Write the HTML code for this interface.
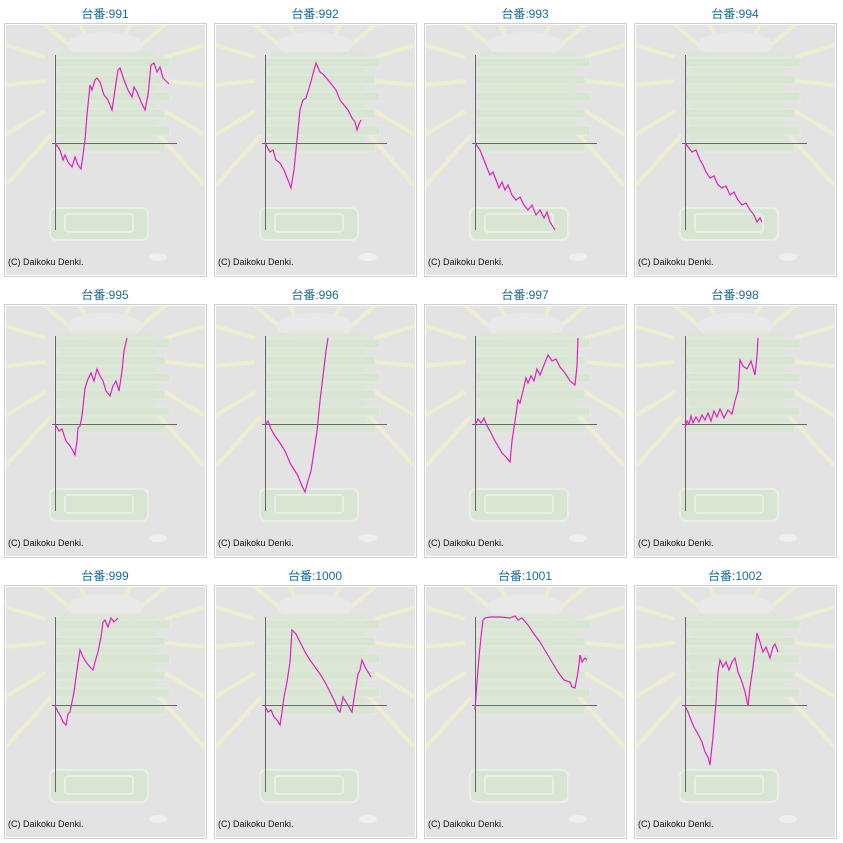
<!DOCTYPE html>
<html><head><meta charset="utf-8"><style>
body{margin:0;background:#fff;width:843px;height:843px;overflow:hidden;position:relative;font-family:"Liberation Sans","Noto Sans CJK JP",sans-serif}
.c{position:absolute;width:210px;height:281px}
.t{position:absolute;left:0;width:210px;top:5px;text-align:center;font-size:12px;color:#1d6a94}
svg{position:absolute;left:0;top:0}
</style></head><body>
<div id="root"></div>
<script>
const titles=["991","992","993","994","995","996","997","998","999","1000","1001","1002"];
const P=[
"55,143 60,150 63,160 65,155 68,162 72,167 75,157 78,165 81,169 83,155 85,140 87,115 90,85 92,90 95,80 97,78 100,82 104,95 108,100 112,110 115,90 118,70 120,68 124,80 128,90 132,97 134,87 137,92 141,102 145,110 148,95 151,65 154,63 157,72 160,67 163,78 169,84",
"55,143 60,152 63,150 66,160 70,163 74,170 78,180 81,188 84,170 87,140 90,110 93,100 96,98 100,85 104,70 106,63 110,72 114,75 118,80 122,85 126,90 130,100 134,105 138,110 142,118 145,122 147,130 149,124 151,120",
"55,143 60,150 64,160 67,168 70,175 73,172 76,180 79,188 82,182 85,190 88,185 92,195 96,200 100,197 104,205 108,210 112,205 116,215 120,210 124,218 127,212 130,222 135,230",
"55,143 59,148 62,152 66,150 70,160 73,165 76,172 80,178 84,176 88,185 92,188 96,186 100,195 104,192 108,200 112,205 116,203 120,210 124,215 127,222 130,218 132,222",
"55,143 59,150 62,148 66,160 70,165 73,170 75,174 77,160 78,147 80,145 82,135 85,107 88,98 91,92 94,100 97,88 100,95 103,100 106,110 110,115 113,105 116,100 119,110 122,90 124,70 127,57",
"55,144 58,140 61,148 65,155 70,162 75,170 80,182 85,190 88,195 92,205 95,211 98,200 101,190 104,170 107,150 110,120 113,95 116,70 118,57",
"55,144 58,138 61,142 64,137 67,145 70,150 74,158 78,165 82,172 86,176 90,181 92,160 95,140 98,119 100,122 103,110 106,97 108,102 111,95 114,100 117,88 120,94 124,84 128,74 132,80 136,78 140,86 145,92 150,100 155,104 157,85 158,57",
"55,147 57,140 59,143 61,135 63,142 66,136 69,141 72,134 75,139 78,132 81,140 84,130 87,136 90,128 94,137 98,129 102,133 105,120 108,110 110,79 113,85 117,88 121,80 125,94 127,75 128,57",
"55,144 58,150 61,155 63,160 66,163 68,152 70,150 72,140 74,130 77,108 80,88 83,95 86,100 90,105 93,108 95,100 98,90 101,75 103,60 105,58 108,65 111,56 114,60 118,56",
"55,144 58,150 61,148 64,155 67,158 70,163 72,150 74,135 77,120 80,100 82,68 86,72 90,80 95,90 100,98 105,105 110,112 115,120 120,130 125,140 128,148 130,150 133,135 136,140 139,145 142,150 145,130 148,112 150,108 152,98 155,105 158,110 161,115",
"55,148 57,120 59,95 61,75 63,58 65,56 70,55 80,55 90,56 95,54 98,58 102,56 108,63 114,72 120,80 126,90 132,100 138,110 144,118 150,120 152,125 155,126 158,110 160,93 162,100 165,96 167,98",
"55,144 58,150 61,158 64,165 68,172 72,180 75,190 78,195 80,203 83,175 86,140 88,110 90,98 93,105 96,100 99,108 102,100 105,96 108,110 112,120 115,130 118,144 120,125 123,105 126,80 127,71 130,80 133,90 136,85 140,96 143,85 145,82 148,90",
];
let h="";
const rays=[[-100,-30],[-100,10],[-100,60],[-90,100],[100,-30],[100,10],[100,60],[90,100],[-60,-50],[60,-50],[-30,-60],[30,-60]];
for(let i=0;i<12;i++){
 const x=(i%4)*210,y=Math.floor(i/4)*281;
 let r="";for(const a of rays)r+=`<line x1="${105+a[0]*0.6}" y1="${75+a[1]*0.6}" x2="${105+a[0]*1.1}" y2="${75+a[1]*1.1}" stroke="#eeeed0" stroke-width="4"/>`;
 let bars="";for(let k=0;k<6;k++)bars+=`<rect x="55" y="${58+k*17}" width="${k%2?110:115}" height="9" fill="#d8e5d2" stroke="#e4ece0"/>`;
 h+=`<div class="c" style="left:${x}px;top:${y}px"><div class="t">台番:${titles[i]}</div>
<svg width="210" height="281"><defs><clipPath id="k${i}"><rect x="6" y="25" width="199" height="250"/></clipPath></defs>
<rect x="4.5" y="23.5" width="202" height="253" fill="#fff" stroke="#cfcfcf"/>
<rect x="6" y="25" width="199" height="250" fill="#e3e3e3"/>
<g clip-path="url(#k${i})">${r}
<ellipse cx="105" cy="45" rx="38" ry="13" fill="#e9e9e9"/>
<rect x="60" y="52" width="95" height="100" fill="#d9e6d3" opacity="0.8"/>${bars}
<rect x="50" y="208" width="98" height="32" rx="6" fill="#d8e5d2" stroke="#e9efe6" stroke-width="2"/>
<rect x="65" y="214" width="68" height="18" rx="3" fill="none" stroke="#e9efe6" stroke-width="2"/>
<ellipse cx="158" cy="257" rx="9" ry="4" fill="#efefef"/></g>
<line x1="55.5" y1="55" x2="55.5" y2="230" stroke="#666"/>
<line x1="52" y1="143.5" x2="177" y2="143.5" stroke="#666"/>
<polyline points="${P[i]}" fill="none" stroke="#e020c0" stroke-width="1.2"/>
<text x="8" y="265" font-size="9" fill="#111" font-family="Liberation Sans,sans-serif">(C) Daikoku Denki.</text>
</svg></div>`;
}
document.getElementById("root").innerHTML=h;
</script>
</body></html>
